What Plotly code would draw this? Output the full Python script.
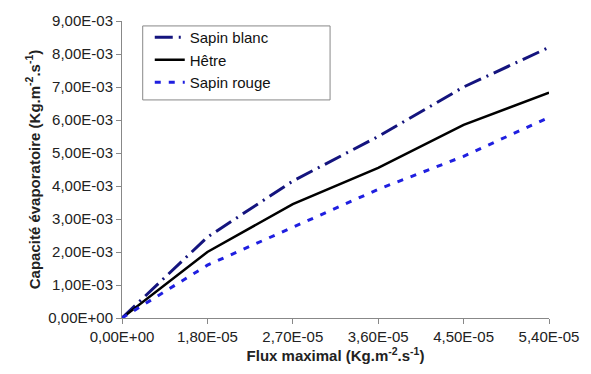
import plotly.graph_objects as go

x_labels = ["0,00E+00", "1,80E-05", "2,70E-05", "3,60E-05", "4,50E-05", "5,40E-05"]
x_pos = [0, 1, 2, 3, 4, 5]
sapin_blanc = [0.0, 2.45e-3, 4.15e-3, 5.5e-3, 7.0e-3, 8.2e-3]
hetre = [0.0, 2.0e-3, 3.45e-3, 4.55e-3, 5.85e-3, 6.83e-3]
sapin_rouge = [0.0, 1.6e-3, 2.75e-3, 3.9e-3, 4.9e-3, 6.08e-3]
y_ticks = [i * 1e-3 for i in range(10)]
y_labels = ["0,00E+00"] + [f"{i},00E-03" for i in range(1, 10)]

fig = go.Figure()
fig.add_trace(go.Scatter(x=x_pos, y=sapin_blanc, mode="lines", name="Sapin blanc",
                         line=dict(color="#14147e", width=3, dash="18px,6px,2px,6px")))
fig.add_trace(go.Scatter(x=x_pos, y=hetre, mode="lines", name="Hêtre",
                         line=dict(color="black", width=2.5)))
fig.add_trace(go.Scatter(x=x_pos, y=sapin_rouge, mode="lines", name="Sapin rouge",
                         line=dict(color="#1f1fe0", width=3, dash="6px,8px")))

fam = "Liberation Sans, Arial"
axis_font = dict(family=fam, size=15, color="#222")
title_font = dict(family=fam, size=15, color="#222")

fig.update_layout(
    width=591, height=374,
    margin=dict(l=122, r=36, t=17, b=56),
    paper_bgcolor="white", plot_bgcolor="white",
    font=axis_font,
    showlegend=True,
    legend=dict(x=0.065, y=1.0, xanchor="left", yanchor="top",
                borderwidth=0, bgcolor="rgba(0,0,0,0)",
                font=dict(family=fam, size=15, color="#111"),
                tracegroupgap=0),
    shapes=[dict(type="rect", xref="paper", yref="paper",
                 x0=(143 - 122) / 433, x1=(333 - 122) / 433,
                 y0=(318 - 97) / 301, y1=(318 - 22) / 301,
                 line=dict(color="#888", width=1), fillcolor="white", layer="below")],
    xaxis=dict(range=[0, 5], tickvals=x_pos, ticktext=x_labels,
               showgrid=False, zeroline=False, showline=True, linecolor="#888",
               linewidth=1, ticks="outside", ticklen=5, tickcolor="#888",
               tickfont=axis_font,
               title=dict(text="<b>Flux maximal (Kg.m<sup>-2</sup>.s<sup>-1</sup>)</b>",
                          font=title_font, standoff=4)),
    yaxis=dict(range=[0, 9e-3], tickvals=y_ticks, ticktext=y_labels,
               showgrid=False, zeroline=False, showline=True, linecolor="#888",
               linewidth=1, ticks="outside", ticklen=5, tickcolor="#888",
               tickfont=axis_font,
               title=dict(text="<b>Capacité évaporatoire (Kg.m<sup>-2</sup>.s<sup>-1</sup>)</b>",
                          font=title_font, standoff=4)),
)

fig.write_html("out.html")
